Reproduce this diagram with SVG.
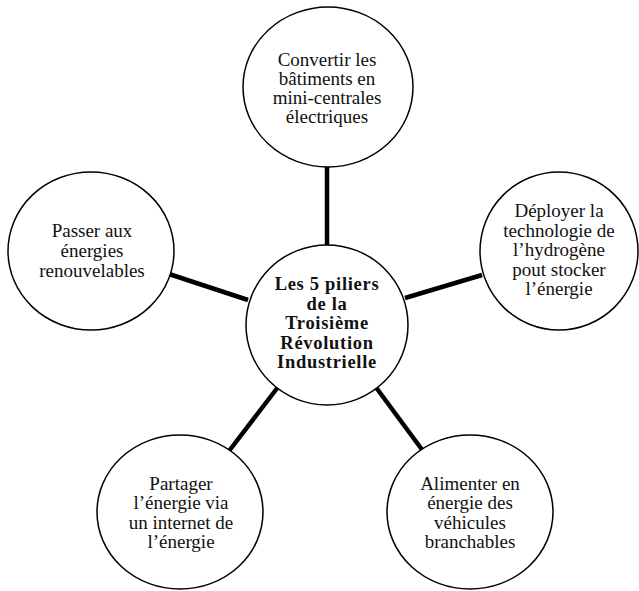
<svg xmlns="http://www.w3.org/2000/svg" width="639" height="591" viewBox="0 0 639 591">
<style>
.node ellipse{fill:#fff;stroke:#000;stroke-width:1.5}
.node text{font-family:"Liberation Serif","Times New Roman",serif;font-size:19px;fill:#111;text-anchor:middle}
.center text{font-weight:bold;font-size:18.5px;letter-spacing:0.7px}
.conn line{stroke:#000;stroke-width:4.5}
</style>
<rect width="639" height="591" fill="#fff"/>
<g id="connectors" class="conn">
<line x1="327" y1="166" x2="327" y2="246"/>
<line x1="169" y1="274" x2="248" y2="300"/>
<line x1="405" y1="298" x2="482" y2="275"/>
<line x1="278" y1="387" x2="229" y2="451"/>
<line x1="375" y1="386" x2="423" y2="451"/>
</g>
<g id="center" class="node center">
<ellipse cx="327" cy="325" rx="81" ry="80"/>
<text x="327" y="290">Les 5 piliers</text>
<text x="327" y="309.5">de la</text>
<text x="327" y="329">Troisième</text>
<text x="327" y="348.5">Révolution</text>
<text x="327" y="368">Industrielle</text>
</g>
<g id="top" class="node">
<ellipse cx="328" cy="87" rx="85" ry="80"/>
<text x="327" y="66">Convertir les</text>
<text x="327" y="85">bâtiments en</text>
<text x="327" y="104">mini-centrales</text>
<text x="327" y="123">électriques</text>
</g>
<g id="left" class="node">
<ellipse cx="91" cy="251" rx="83" ry="79"/>
<text x="92" y="237">Passer aux</text>
<text x="92" y="257">énergies</text>
<text x="92" y="277">renouvelables</text>
</g>
<g id="right" class="node">
<ellipse cx="559" cy="251" rx="79" ry="79"/>
<text x="559" y="217">Déployer la</text>
<text x="559" y="236.5">technologie de</text>
<text x="559" y="256">l’hydrogène</text>
<text x="559" y="275.5">pout stocker</text>
<text x="559" y="295">l’énergie</text>
</g>
<g id="bottom-left" class="node">
<ellipse cx="180" cy="512" rx="83" ry="77"/>
<text x="181" y="490">Partager</text>
<text x="181" y="509">l’énergie via</text>
<text x="181" y="528.5">un internet de</text>
<text x="181" y="548">l’énergie</text>
</g>
<g id="bottom-right" class="node">
<ellipse cx="470" cy="512" rx="83" ry="77"/>
<text x="470" y="490">Alimenter en</text>
<text x="470" y="509">énergie des</text>
<text x="470" y="528.5">véhicules</text>
<text x="470" y="548">branchables</text>
</g>
</svg>
